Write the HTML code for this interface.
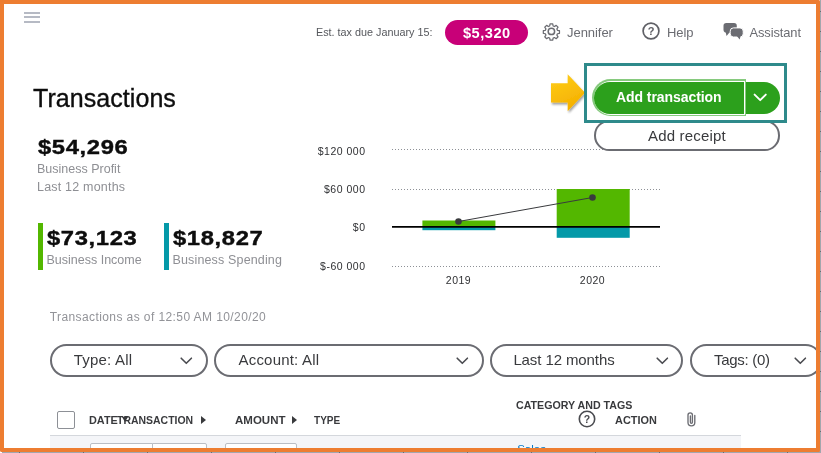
<!DOCTYPE html>
<html lang="en">
<head>
<meta charset="utf-8">
<title>Transactions</title>
<style>
*{box-sizing:border-box;margin:0;padding:0}
html,body{width:821px;height:453px;overflow:hidden;background:#fff}
body{font-family:"Liberation Sans",sans-serif;color:#393a3d;position:relative}
.abs{position:absolute}
.t{position:absolute;white-space:nowrap;line-height:1}
#frame{position:absolute;left:0;top:0;width:820px;height:451.900px;border-style:solid;border-color:#ed7d31;border-width:3.7px 4px 3.9px 3.8px;pointer-events:none;z-index:52;border-radius:2px}
.fr{position:absolute;background:#ed7d31;z-index:52}
#rstrip{position:absolute;left:819.5px;top:0;width:1.5px;height:453px;background:repeating-linear-gradient(to bottom,#a3a6ad 0,#a3a6ad 10.9px,#6a6c73 10.9px,#6a6c73 11.9px,#a3a6ad 11.9px,#a3a6ad 20px);z-index:51}
#bstrip{position:absolute;left:1.5px;top:451px;width:820px;height:2px;background:repeating-linear-gradient(to right,#a3a6ad 0,#a3a6ad 17.5px,#6a6c73 17.5px,#6a6c73 18.5px,#a3a6ad 18.5px,#a3a6ad 64px);z-index:51}
.pill{position:absolute;height:32.700px;border:2px solid #6b6c72;border-radius:16.4px;background:#fff}
.pill .lbl{position:absolute;top:4.8px;font-size:15px;line-height:17px;color:#393a3d;white-space:nowrap}
.pill svg{position:absolute;top:10.9px}
.th{transform-origin:0 50%;position:absolute;font-size:10.8px;font-weight:bold;color:#393a3d;white-space:nowrap;line-height:1}
.grey{color:#8e8f94}
</style>
</head>
<body>

<!-- hamburger -->
<div class="abs" style="left:24px;top:12px;width:16px;height:2px;background:#b6bac4"></div>
<div class="abs" style="left:24px;top:16px;width:16px;height:2px;background:#b6bac4"></div>
<div class="abs" style="left:24px;top:21px;width:16px;height:2px;background:#b6bac4"></div>

<!-- header -->
<div class="t" id="est" style="left:316px;top:27.3px;font-size:10.8px;color:#55575c">Est. tax due January 15:</div>
<div class="abs" style="left:444.6px;top:19.6px;width:83.7px;height:25px;border-radius:12.5px;background:#c80078"></div>
<div class="t" id="tax" style="left:463px;top:25.9px;font-size:14.6px;font-weight:bold;color:#fff;letter-spacing:0.5px">$5,320</div>

<svg class="abs" style="left:542px;top:21.9px" width="18.8" height="18.8" viewBox="0 0 24 24" fill="none" stroke="#6b6c72" stroke-width="1.6">
<path d="M10.3 2.5h3.4l.5 2.6 1.7.7 2.2-1.5 2.4 2.4-1.5 2.2.7 1.7 2.6.5v3.4l-2.6.5-.7 1.7 1.5 2.2-2.4 2.4-2.2-1.5-1.7.7-.5 2.6h-3.4l-.5-2.6-1.7-.7-2.2 1.5-2.4-2.4 1.5-2.2-.7-1.7-2.6-.5v-3.4l2.6-.5.7-1.7-1.5-2.2 2.4-2.4 2.2 1.5 1.7-.7z" stroke-linejoin="round"/>
<circle cx="12" cy="12" r="4.1" stroke-width="1.9"/>
</svg>
<div class="t" id="jen" style="left:567px;top:25.7px;font-size:13px;letter-spacing:-0.05px;color:#6b6c72">Jennifer</div>

<svg class="abs" style="left:642.2px;top:21.8px" width="18" height="18" viewBox="0 0 18 18"><circle cx="9" cy="9" r="7.9" fill="none" stroke="#5f6066" stroke-width="1.7"/><text x="9" y="13" text-anchor="middle" font-family="Liberation Sans, sans-serif" font-size="11" font-weight="bold" fill="#5f6066">?</text></svg>
<div class="t" id="help" style="left:667px;top:25.7px;font-size:13px;letter-spacing:-0.05px;color:#6b6c72">Help</div>

<svg class="abs" style="left:720px;top:20px" width="26" height="22" viewBox="720 20 26 22">
<rect x="723.5" y="23" width="13.3" height="9.5" rx="2.8" fill="#6b6c72"/>
<path d="M725.6 31.5l0.9 4.4 3.8-4.4z" fill="#6b6c72"/>
<rect x="730.2" y="27.9" width="13" height="9.1" rx="3.2" fill="#6b6c72" stroke="#fff" stroke-width="1"/>
<path d="M736.8 36l2.9 3.5 0.9-3.5z" fill="#6b6c72"/>
</svg>
<div class="t" id="asst" style="left:749.5px;top:26.7px;font-size:12.9px;letter-spacing:-0.1px;color:#6b6c72">Assistant</div>

<!-- title -->
<div class="t" id="title" style="left:33px;top:86px;font-size:25px;color:#0d0d0d;letter-spacing:0.06px;-webkit-text-stroke:0.35px #0d0d0d">Transactions</div>

<!-- chart -->
<svg class="abs" style="left:300px;top:135px" width="380" height="160" viewBox="300 135 380 160" font-family="Liberation Sans, sans-serif">
<g stroke="#8d9096" stroke-width="1" stroke-dasharray="1 2">
<line x1="392" y1="149.5" x2="660" y2="149.5"/>
<line x1="392" y1="189.5" x2="660" y2="189.5"/>
<line x1="392" y1="266.5" x2="660" y2="266.5"/>
</g>
<rect x="422.4" y="220.5" width="73" height="6.500" fill="#53b700"/>
<rect x="422.4" y="227" width="73" height="3.200" fill="#0499a8"/>
<rect x="556.7" y="189" width="73" height="38" fill="#53b700"/>
<rect x="556.7" y="227" width="73" height="10.800" fill="#0499a8"/>
<line x1="392" y1="226.800" x2="660" y2="226.800" stroke="#000" stroke-width="1.7"/>
<line x1="458.5" y1="221.5" x2="592.5" y2="197.5" stroke="#393a3d" stroke-width="1"/>
<circle cx="458.5" cy="221.5" r="3.3" fill="#393a3d"/>
<circle cx="592.5" cy="197.5" r="3.3" fill="#393a3d"/>
<g font-size="10.5" fill="#2f3033" text-anchor="end" letter-spacing="0.5">
<text id="c1" x="365.5" y="155">$120 000</text>
<text id="c2" x="365.5" y="193">$60 000</text>
<text id="c3" x="365.5" y="231">$0</text>
<text id="c4" x="365.5" y="270">$-60 000</text>
</g>
<g font-size="10.5" fill="#2f3033" text-anchor="middle" letter-spacing="0.5">
<text id="y1" x="458.5" y="284">2019</text>
<text id="y2" x="592.5" y="284">2020</text>
</g>
</svg>

<!-- arrow -->
<svg class="abs" style="left:545px;top:68px;overflow:visible" width="44" height="50" viewBox="545 68 44 50">
<defs>
<filter id="sh" x="-20%" y="-20%" width="150%" height="150%"><feGaussianBlur in="SourceAlpha" stdDeviation="1.1"/><feOffset dx="0.8" dy="1.6"/><feComponentTransfer><feFuncA type="linear" slope="0.38"/></feComponentTransfer><feMerge><feMergeNode/><feMergeNode in="SourceGraphic"/></feMerge></filter>
<linearGradient id="ag" x1="0" y1="0" x2="0.4" y2="1"><stop offset="0" stop-color="#ffcf1a"/><stop offset="1" stop-color="#f5b000"/></linearGradient>
</defs>
<path d="M551 83.300h16.700v-9.100l17.300 18.500-17.300 18.500v-8.600h-16.700z" fill="url(#ag)" filter="url(#sh)"/>
</svg>

<!-- highlight box -->
<div class="abs" style="left:584px;top:63px;width:202.600px;height:59.700px;border:3px solid #2e8a8b"></div>

<!-- add receipt -->
<div class="abs" style="left:594px;top:120.3px;width:185.800px;height:30.300px;border:2px solid #6b6c72;border-radius:15.2px;background:#fff"></div>
<div class="abs" style="left:587px;top:119.7px;width:196.600px;height:3px;background:#2e8a8b"></div>
<div class="t" id="addrc" style="left:648px;top:128px;font-size:15px;color:#393a3d;letter-spacing:0.17px">Add receipt</div>

<!-- add transaction button -->
<div class="abs" style="left:592.1px;top:79.1px;width:154.200px;height:37.200px;border-radius:18.6px 0 0 18.6px;background:#86ca7e"></div><div class="abs" style="left:593.5px;top:80.5px;width:151.500px;height:34.400px;border-radius:17.2px 0 0 17.2px;background:#fff"></div>
<div class="abs" style="left:594.2px;top:81.6px;width:150px;height:32.100px;border-radius:16.1px 0 0 16.1px;background:#2ca01c"></div>
<div class="abs" style="left:745.9px;top:81.6px;width:33.900px;height:32.100px;border-radius:0 16.1px 16.1px 0;background:#2ca01c"></div>
<div class="t" id="addtx" style="left:616px;top:90.3px;font-size:14px;font-weight:bold;color:#fff;letter-spacing:-0.07px">Add transaction</div>
<svg class="abs" style="left:752px;top:92px" width="16" height="11" viewBox="752 92 16 11"><path d="M754.6 94.600l5.600 5.600 5.600-5.600" fill="none" stroke="#fff" stroke-width="1.9" stroke-linecap="round" stroke-linejoin="round"/></svg>

<!-- stats -->
<div class="t" id="profit" style="left:37.5px;top:136.8px;font-size:20.5px;font-weight:bold;color:#0d0d0d;letter-spacing:0.55px;transform:scaleX(1.16);transform-origin:0 0;-webkit-text-stroke:0.4px #0d0d0d">$54,296</div>
<div class="t grey" id="bp" style="left:37px;top:163px;font-size:12.5px">Business Profit</div>
<div class="t grey" id="l12" style="left:37px;top:181px;font-size:12.5px;letter-spacing:0.2px">Last 12 months</div>

<div class="abs" style="left:38px;top:223px;width:5px;height:47px;background:#53b700"></div>
<div class="t" id="inc" style="left:46.5px;top:228px;font-size:20.5px;font-weight:bold;color:#0d0d0d;letter-spacing:0.55px;transform:scaleX(1.16);transform-origin:0 0;-webkit-text-stroke:0.4px #0d0d0d">$73,123</div>
<div class="t grey" id="bi" style="left:46.5px;top:254px;font-size:12.5px">Business Income</div>

<div class="abs" style="left:164px;top:223px;width:5px;height:47px;background:#0499a8"></div>
<div class="t" id="spend" style="left:173px;top:228px;font-size:20.5px;font-weight:bold;color:#0d0d0d;letter-spacing:0.55px;transform:scaleX(1.16);transform-origin:0 0;-webkit-text-stroke:0.4px #0d0d0d">$18,827</div>
<div class="t grey" id="bs" style="left:172.5px;top:254px;font-size:12.5px;letter-spacing:0.15px">Business Spending</div>

<!-- as of -->
<div class="t grey" id="asof" style="left:49.7px;top:311px;font-size:12px;letter-spacing:0.41px;color:#929398">Transactions as of 12:50 AM 10/20/20</div>

<!-- filters -->
<div class="pill" style="left:50.2px;top:344.1px;width:157.5px"><span class="lbl" id="p1" style="left:21.6px;letter-spacing:0.2px">Type: All</span>
<svg style="left:127.6px" width="13" height="8" viewBox="0 0 13 8"><path d="M1.2 1.200l5.100 5.100 5.100-5.100" fill="none" stroke="#4a4b50" stroke-width="1.6" stroke-linecap="round" stroke-linejoin="round"/></svg></div>
<div class="pill" style="left:214.3px;top:344.1px;width:269.8px"><span class="lbl" id="p2" style="left:22.2px;letter-spacing:0.2px">Account: All</span>
<svg style="left:239.6px" width="13" height="8" viewBox="0 0 13 8"><path d="M1.2 1.200l5.100 5.100 5.100-5.100" fill="none" stroke="#4a4b50" stroke-width="1.6" stroke-linecap="round" stroke-linejoin="round"/></svg></div>
<div class="pill" style="left:490.2px;top:344.1px;width:193.2px"><span class="lbl" id="p3" style="left:21.2px;letter-spacing:-0.1px">Last 12 months</span>
<svg style="left:164.0px" width="13" height="8" viewBox="0 0 13 8"><path d="M1.2 1.200l5.100 5.100 5.100-5.100" fill="none" stroke="#4a4b50" stroke-width="1.6" stroke-linecap="round" stroke-linejoin="round"/></svg></div>
<div class="pill" style="left:690.2px;top:344.1px;width:132.3px"><span class="lbl" id="p4" style="left:21.8px;letter-spacing:-0.3px">Tags: (0)</span>
<svg style="left:101.4px" width="13" height="8" viewBox="0 0 13 8"><path d="M1.2 1.200l5.100 5.100 5.100-5.100" fill="none" stroke="#4a4b50" stroke-width="1.6" stroke-linecap="round" stroke-linejoin="round"/></svg></div>

<!-- table header -->
<div class="abs" style="left:57px;top:411px;width:18px;height:18px;border:1px solid #8d9096;border-radius:2px;background:#fff"></div>
<div class="th" id="h1" style="left:88.6px;top:415.2px;transform:scaleX(1.006)">DATE</div>
<div class="abs" style="left:121.8px;top:416.8px;width:0;height:0;border-left:3.5px solid transparent;border-right:3.5px solid transparent;border-top:5px solid #393a3d"></div>
<div class="th" id="h2" style="left:117px;top:415.2px;transform:scaleX(0.969)">TRANSACTION</div>
<div class="abs" style="left:201.4px;top:416.2px;width:0;height:0;border-top:4px solid transparent;border-bottom:4px solid transparent;border-left:5.5px solid #393a3d"></div>
<div class="th" id="h3" style="left:235px;top:415.2px;transform:scaleX(1.065)">AMOUNT</div>
<div class="abs" style="left:292px;top:416.2px;width:0;height:0;border-top:4px solid transparent;border-bottom:4px solid transparent;border-left:5.5px solid #393a3d"></div>
<div class="th" id="h4" style="left:313.6px;top:415.2px;transform:scaleX(0.93)">TYPE</div>
<div class="th" id="h5" style="left:515.6px;top:400.4px;transform:scaleX(0.986)">CATEGORY AND TAGS</div>
<svg class="abs" style="left:577.6px;top:409.8px" width="18" height="18" viewBox="0 0 18 18"><circle cx="9" cy="9" r="7.7" fill="#fff" stroke="#4a4b50" stroke-width="1.6"/><text x="9" y="12.900" text-anchor="middle" font-family="Liberation Sans, sans-serif" font-size="10.5" font-weight="bold" fill="#4a4b50">?</text></svg>
<div class="th" id="h6" style="left:614.5px;top:415.2px;transform:scaleX(1.01)">ACTION</div>
<svg class="abs" style="left:686px;top:411px" width="11" height="16" viewBox="0 0 11 16"><path d="M8.8 4.5v7a3.4 3.4 0 0 1 -6.8 0v-7.5a2.2 2.2 0 0 1 4.400 0v7.300a1 1 0 0 1 -2 0v-6.300" fill="none" stroke="#6b6c72" stroke-width="1.35" stroke-linecap="round"/></svg>

<!-- table row -->
<div class="abs" style="left:50px;top:435px;width:691px;height:20px;background:#f4f5f8;border-top:1px solid #d4d7dc"></div>
<div class="abs" style="left:90px;top:443px;width:63px;height:20px;background:#fff;border:1px solid #babec5;border-radius:2px 0 0 2px"></div>
<div class="abs" style="left:152px;top:443px;width:55px;height:20px;background:#fff;border:1px solid #babec5;border-radius:0 2px 2px 0"></div>
<div class="abs" style="left:225px;top:443px;width:72px;height:20px;background:#fff;border:1px solid #babec5;border-radius:2px"></div>
<div class="t" id="sal" style="left:517.2px;top:444.1px;font-size:11.5px;color:#0077c5">Sales</div>

<div class="fr" style="left:0;top:0;width:820px;height:3.7px;border-radius:0 2px 0 0"></div><div class="fr" style="left:0;top:0;width:3.8px;height:451.900px;border-radius:0 0 0 2px"></div><div class="fr" style="left:816px;top:0;width:4.050px;height:451.900px;border-radius:0 2px 2px 0"></div><div class="fr" style="left:0;top:448px;width:820px;height:3.9px;border-radius:0 0 2px 2px"></div>
<div id="rstrip"></div>
<div id="bstrip"></div>
</body>
</html>
